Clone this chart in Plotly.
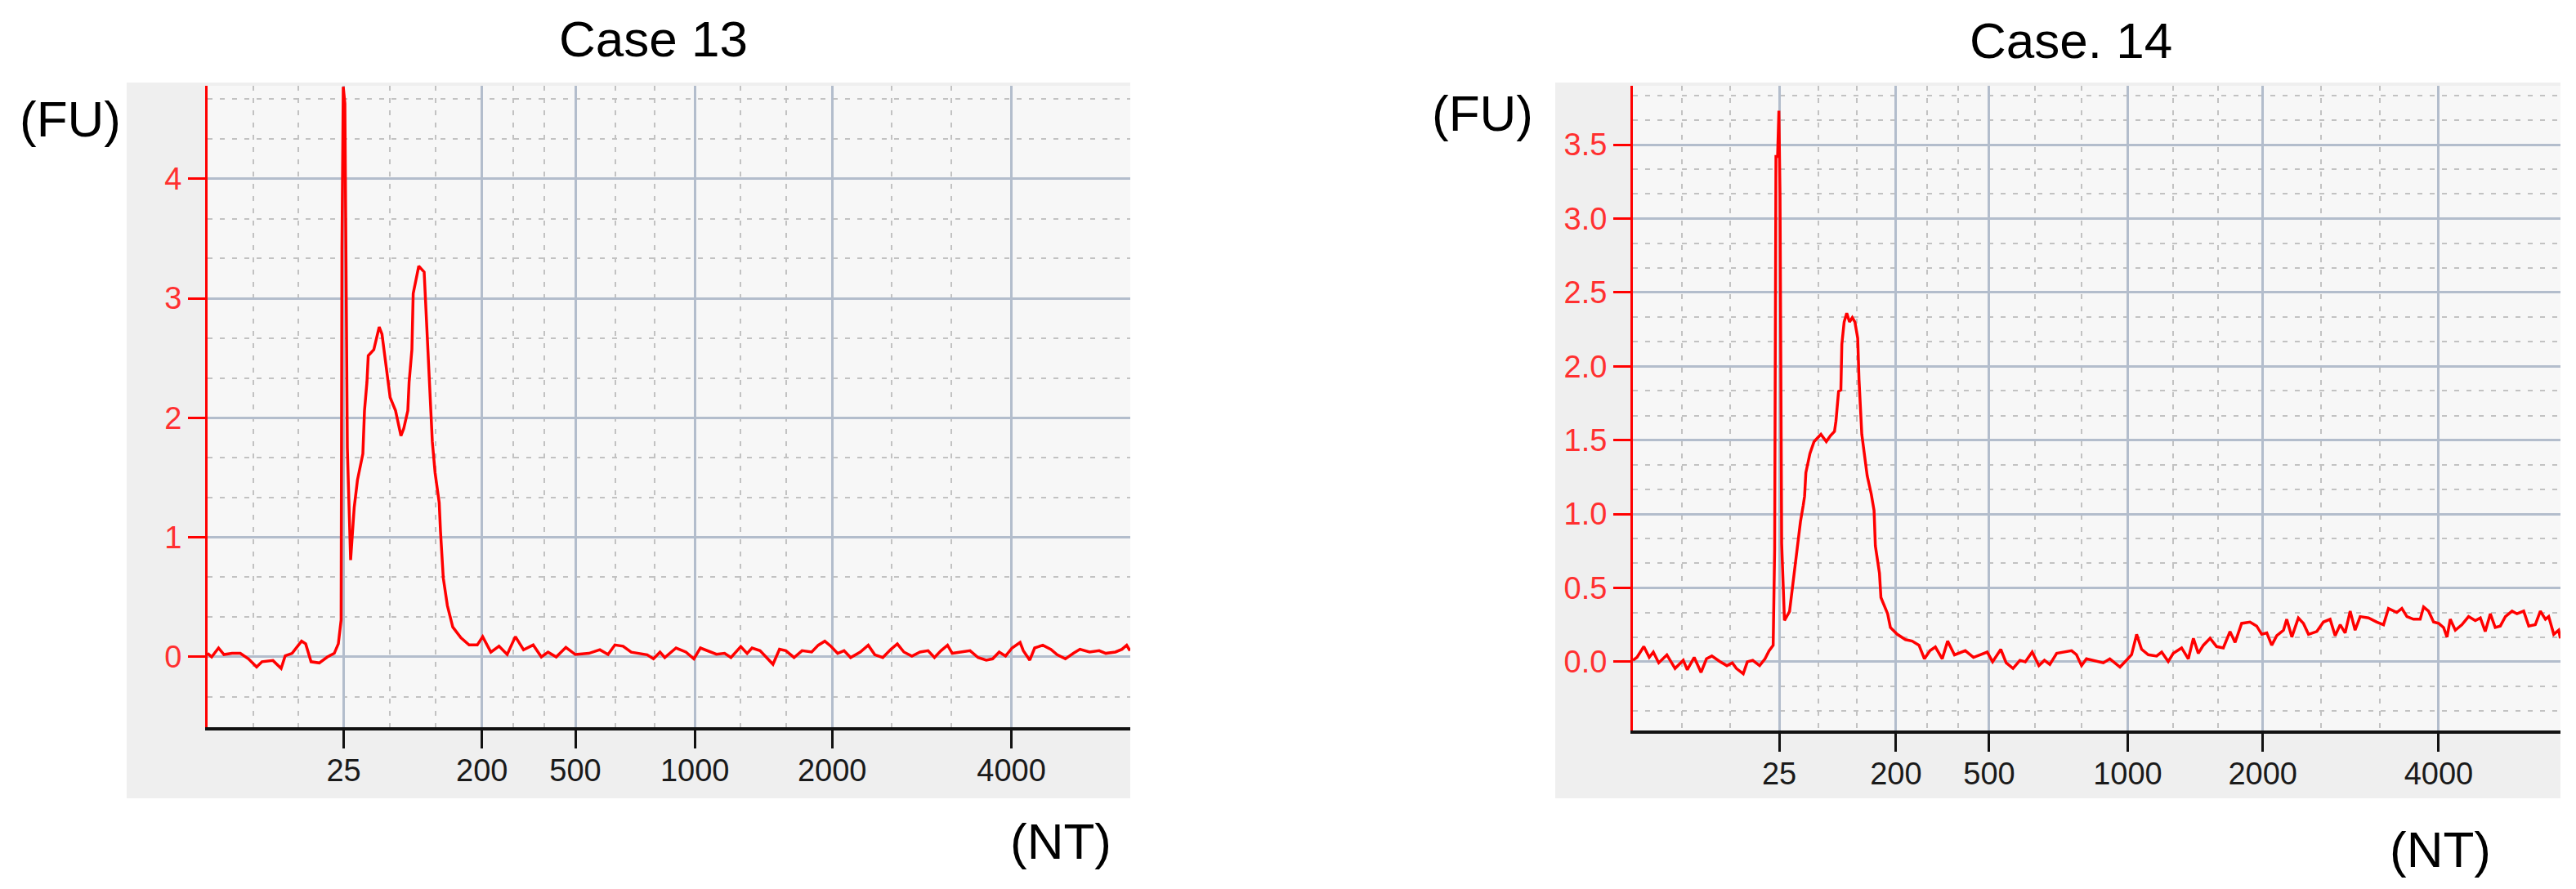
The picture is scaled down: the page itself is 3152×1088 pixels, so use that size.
import plotly.graph_objects as go

W, H = 3152, 1088

# ---------------- data ----------------
ladder_nt = ["25", "200", "500", "1000", "2000", "4000"]
case13_ladder_time = [28.33, 36.79, 42.5, 49.81, 58.21, 69.18]
case14_ladder_time = [28.95, 36.09, 41.79, 50.26, 58.52, 69.28]

case13_time = [20.0, 20.25, 20.67, 21.0, 21.5, 22.0, 22.5, 23.0, 23.33, 24.0, 24.5, 24.75, 25.17,
               25.75, 26.0, 26.33, 26.83, 27.33, 27.75, 28.0, 28.17, 28.22, 28.30, 28.40, 28.55,
               28.75, 28.97, 29.17, 29.5, 29.6, 29.75, 29.83, 30.17, 30.5, 30.67, 30.92, 31.17,
               31.5, 31.83, 32.0, 32.25, 32.33, 32.5, 32.58, 32.83, 32.92, 33.25, 33.33, 33.58,
               33.75, 33.92, 34.17, 34.25, 34.42, 34.67, 35.0, 35.5, 36.0, 36.5, 36.83, 37.33,
               37.83, 38.33, 38.83, 39.33, 39.92, 40.42, 40.83, 41.33, 41.92, 42.5, 43.33, 44.0,
               44.5, 44.92, 45.42, 45.92, 46.29, 46.89, 47.28, 47.68, 47.97, 48.66, 49.26, 49.75,
               50.15, 50.64, 51.13, 51.63, 52.02, 52.62, 53.01, 53.31, 53.80, 54.20, 54.59, 54.99,
               55.38, 55.88, 56.37, 56.96, 57.36, 57.76, 58.15, 58.55, 58.94, 59.34, 59.93, 60.42,
               60.82, 61.31, 61.81, 62.20, 62.60, 63.09, 63.59, 64.08, 64.47, 64.87, 65.27, 65.56,
               66.06, 66.65, 67.14, 67.64, 68.03, 68.43, 68.82, 69.22, 69.71, 69.91, 70.30, 70.60,
               71.10, 71.59, 71.98, 72.48, 72.97, 73.37, 73.96, 74.55, 74.95, 75.54, 75.94, 76.23,
               76.43]
case13_fu = [0.03, 0.0, 0.075, 0.02, 0.03, 0.03, -0.016, -0.084, -0.04, -0.03, -0.096, 0.01, 0.03,
             0.132, 0.11, -0.04, -0.05, 0.0, 0.03, 0.11, 0.31, 3.41, 4.77, 4.63, 1.75,
             0.81, 1.25, 1.48, 1.70, 2.06, 2.3, 2.52, 2.57, 2.76, 2.7, 2.42, 2.17,
             2.06, 1.85, 1.91, 2.06, 2.3, 2.57, 3.04, 3.23, 3.27, 3.22, 3.0, 2.2,
             1.80, 1.54, 1.29, 1.05, 0.66, 0.43, 0.25, 0.16, 0.10, 0.10, 0.17, 0.04,
             0.09, 0.02, 0.17, 0.06, 0.10, 0.0, 0.04, 0.0, 0.08, 0.02, 0.03, 0.06,
             0.02, 0.10, 0.09, 0.04, 0.030, 0.018, -0.016, 0.041, -0.005, 0.075, 0.041, -0.016,
             0.075, 0.052, 0.023, 0.030, -0.005, 0.087, 0.030, 0.075, 0.052, -0.005, -0.062, 0.064,
             0.052, -0.005, 0.052, 0.041, 0.098, 0.132, 0.087, 0.030, 0.052, -0.005, 0.041, 0.098,
             0.018, -0.005, 0.064, 0.109, 0.041, 0.007, 0.041, 0.052, -0.005, 0.052, 0.098, 0.030,
             0.041, 0.052, -0.005, -0.027, -0.016, 0.041, 0.007, 0.075, 0.121, 0.052, -0.027, 0.075,
             0.098, 0.064, 0.018, -0.016, 0.030, 0.064, 0.041, 0.052, 0.030, 0.041, 0.064, 0.098,
             0.052]

case14_time = [20.0, 20.25, 20.67, 21.0, 21.25, 21.58, 22.08, 22.58, 23.08, 23.33, 23.75, 24.17,
               24.5, 24.83, 25.33, 25.75, 26.08, 26.33, 26.75, 27.0, 27.33, 27.75, 28.08, 28.33,
               28.58, 28.67, 28.75, 28.85, 28.93, 29.0, 29.1, 29.27, 29.58, 29.75, 29.92, 30.08,
               30.25, 30.42, 30.5, 30.58, 30.83, 31.08, 31.5, 31.83, 32.08, 32.33, 32.42, 32.58,
               32.72, 32.78, 32.92, 33.08, 33.25, 33.42, 33.58, 33.75, 33.83, 34.0, 34.17, 34.33,
               34.58, 34.75, 34.83, 35.08, 35.17, 35.58, 35.75, 36.17, 36.67, 37.08, 37.5, 37.83,
               38.17, 38.5, 38.92, 39.25, 39.67, 40.33, 40.83, 41.25, 41.67, 42.0, 42.5, 42.83,
               43.25, 43.67, 44.0, 44.42, 44.83, 45.17, 45.5, 45.92, 46.42, 46.83, 47.13, 47.44,
               47.74, 48.36, 48.77, 49.17, 49.48, 49.79, 50.19, 50.5, 50.81, 51.11, 51.52, 52.03,
               52.34, 52.74, 53.05, 53.56, 53.97, 54.28, 54.58, 54.89, 55.3, 55.7, 56.11, 56.52,
               56.83, 57.23, 57.74, 58.15, 58.46, 58.77, 59.07, 59.38, 59.79, 59.99, 60.3, 60.7,
               61.01, 61.32, 61.83, 62.23, 62.64, 62.95, 63.26, 63.56, 63.87, 64.17, 64.48, 64.99,
               65.5, 65.91, 66.21, 66.72, 67.03, 67.34, 67.74, 68.15, 68.36, 68.66, 68.97, 69.28,
               69.58, 69.79, 69.99, 70.3, 70.7, 71.11, 71.52, 71.83, 72.13, 72.44, 72.74, 73.05,
               73.36, 73.77, 74.07, 74.48, 74.79, 75.19, 75.5, 75.81, 76.01, 76.32, 76.62, 76.72]
case14_fu = [0.01, 0.03, 0.103, 0.03, 0.066, -0.007, 0.047, -0.045, 0.01, -0.054, 0.03, -0.072,
             0.02, 0.039, 0.001, -0.026, -0.007, -0.045, -0.081, 0.0, 0.01, -0.026, 0.02, 0.075,
             0.112, 0.76, 3.42, 3.42, 3.73, 3.15, 0.80, 0.28, 0.34, 0.49, 0.66, 0.80,
             0.95, 1.06, 1.12, 1.28, 1.41, 1.49, 1.54, 1.49, 1.53, 1.56, 1.63, 1.83,
             1.84, 2.15, 2.30, 2.36, 2.30, 2.33, 2.30, 2.19, 1.91, 1.54, 1.39, 1.26,
             1.135, 1.025, 0.785, 0.60, 0.435, 0.325, 0.232, 0.186, 0.15, 0.14, 0.112, 0.02,
             0.075, 0.10, 0.02, 0.14, 0.047, 0.075, 0.03, 0.047, 0.066, 0.0, 0.084, -0.007,
             -0.045, 0.01, 0.0, 0.066, -0.026, 0.01, -0.018, 0.057, 0.066, 0.075, 0.048, -0.026,
             0.020, 0.002, -0.007, 0.020, -0.007, -0.035, 0.011, 0.048, 0.186, 0.085, 0.048, 0.039,
             0.066, 0.002, 0.057, 0.094, 0.020, 0.159, 0.057, 0.112, 0.159, 0.103, 0.094, 0.205,
             0.131, 0.260, 0.269, 0.242, 0.186, 0.195, 0.112, 0.177, 0.214, 0.288, 0.168, 0.297,
             0.260, 0.186, 0.205, 0.269, 0.288, 0.177, 0.251, 0.195, 0.343, 0.214, 0.306, 0.297,
             0.269, 0.251, 0.361, 0.334, 0.361, 0.306, 0.288, 0.288, 0.371, 0.343, 0.269, 0.260,
             0.232, 0.168, 0.288, 0.214, 0.251, 0.306, 0.279, 0.297, 0.205, 0.325, 0.232, 0.242,
             0.306, 0.343, 0.325, 0.343, 0.242, 0.251, 0.343, 0.288, 0.306, 0.186, 0.214, 0.159]

case13_fu_ticks = [0, 1, 2, 3, 4]
case13_fu_labels = ["0", "1", "2", "3", "4"]
case14_fu_ticks = [0.0, 0.5, 1.0, 1.5, 2.0, 2.5, 3.0, 3.5]
case14_fu_labels = ["0.0", "0.5", "1.0", "1.5", "2.0", "2.5", "3.0", "3.5"]

titles = ["Case 13", "Case. 14"]

# ---------------- styling ----------------
RED = "#ff0000"
LABEL_RED = "#ff3030"
MAJOR_GRID = "#b3bdcc"
MINOR_GRID = "#c2c2c2"
PANEL_BG = "#efefef"
PLOT_BG = "#f7f7f7"
FONT = "Liberation Sans, Arial, sans-serif"


def px_x(p):
    return p / W


def px_y(p):
    return 1 - p / H


def thirds(start, ladder):
    stops = [start] + list(ladder)
    out = []
    for a, b in zip(stops[:-1], stops[1:]):
        d = (b - a) / 3
        out += [a + d, a + 2 * d]
    return out


fig = go.Figure()
fig.add_trace(go.Scatter(x=case13_time, y=case13_fu, mode="lines",
                         line=dict(color=RED, width=3.5), xaxis="x", yaxis="y",
                         showlegend=False, hoverinfo="skip"))
fig.add_trace(go.Scatter(x=case14_time, y=case14_fu, mode="lines",
                         line=dict(color=RED, width=3.5), xaxis="x2", yaxis="y2",
                         showlegend=False, hoverinfo="skip"))

panels = [
    dict(xd=(246, 1375), yd=(97, 882), xr=(20, 76.45), yr=(-0.588, 4.778),
         ladder=case13_ladder_time, yt=case13_fu_ticks, yl=case13_fu_labels, ydt=1 / 3),
    dict(xd=(1990, 3125), yd=(97, 886), xr=(20, 76.73), yr=(-0.465, 3.899),
         ladder=case14_ladder_time, yt=case14_fu_ticks, yl=case14_fu_labels, ydt=1 / 6),
]

layout = dict(
    width=W, height=H,
    margin=dict(l=0, r=0, t=0, b=0),
    paper_bgcolor="white",
    plot_bgcolor=PLOT_BG,
    showlegend=False,
    hovermode=False,
    font=dict(family=FONT, color="black"),
)

for i, p in enumerate(panels):
    xs = "" if i == 0 else str(i + 1)
    layout["xaxis" + xs] = dict(
        domain=[px_x(p["xd"][0]), px_x(p["xd"][1])],
        range=list(p["xr"]),
        anchor="y" + xs,
        tickmode="array", tickvals=p["ladder"], ticktext=ladder_nt,
        ticks="outside", ticklen=22, tickwidth=3, tickcolor="#111111",
        tickfont=dict(size=38, color="#1a1a1a", family=FONT),
        ticklabelstandoff=-6,
        showline=True, linecolor="#111111", linewidth=4,
        showgrid=True, gridcolor=MAJOR_GRID, gridwidth=3,
        zeroline=False,
        minor=dict(tickmode="array", tickvals=thirds(p["xr"][0], p["ladder"]),
                   showgrid=True, gridcolor=MINOR_GRID, gridwidth=2,
                   griddash="6px,9px", ticks=""),
    )
    layout["yaxis" + xs] = dict(
        domain=[px_y(p["yd"][1]), px_y(p["yd"][0])],
        range=list(p["yr"]),
        anchor="x" + xs,
        tickmode="array", tickvals=p["yt"], ticktext=p["yl"],
        ticks="outside", ticklen=21, tickwidth=3, tickcolor=RED,
        tickfont=dict(size=38, color=LABEL_RED, family=FONT),
        showline=True, linecolor=RED, linewidth=3,
        showgrid=True, gridcolor=MAJOR_GRID, gridwidth=3,
        zeroline=False,
        minor=dict(tick0=0, dtick=p["ydt"], showgrid=True, gridcolor=MINOR_GRID,
                   gridwidth=2, griddash="6px,9px", ticks=""),
    )

shapes = [
    dict(type="rect", xref="paper", yref="paper", layer="below", line=dict(width=0),
         fillcolor=PANEL_BG, x0=px_x(147), x1=px_x(1375), y0=px_y(969), y1=px_y(93)),
    dict(type="rect", xref="paper", yref="paper", layer="below", line=dict(width=0),
         fillcolor=PANEL_BG, x0=px_x(1895), x1=px_x(3125), y0=px_y(969), y1=px_y(93)),
    dict(type="rect", xref="x domain", yref="y domain", layer="below", line=dict(width=0),
         fillcolor=PLOT_BG, x0=0, x1=1, y0=0, y1=1),
    dict(type="rect", xref="x2 domain", yref="y2 domain", layer="below", line=dict(width=0),
         fillcolor=PLOT_BG, x0=0, x1=1, y0=0, y1=1),
]
layout["shapes"] = shapes

big = dict(family=FONT, size=62, color="black")
annotations = [
    dict(text=titles[0], x=px_x(791), y=px_y(40), xref="paper", yref="paper",
         showarrow=False, font=big, xanchor="center", yanchor="middle"),
    dict(text=titles[1], x=px_x(2526), y=px_y(41), xref="paper", yref="paper",
         showarrow=False, font=big, xanchor="center", yanchor="middle"),
    dict(text="(FU)", x=px_x(78), y=px_y(137), xref="paper", yref="paper",
         showarrow=False, font=big, xanchor="center", yanchor="middle"),
    dict(text="(FU)", x=px_x(1806), y=px_y(130), xref="paper", yref="paper",
         showarrow=False, font=big, xanchor="center", yanchor="middle"),
    dict(text="(NT)", x=px_x(1290), y=px_y(1021), xref="paper", yref="paper",
         showarrow=False, font=big, xanchor="center", yanchor="middle"),
    dict(text="(NT)", x=px_x(2978), y=px_y(1031), xref="paper", yref="paper",
         showarrow=False, font=big, xanchor="center", yanchor="middle"),
]
layout["annotations"] = annotations

fig.update_layout(**layout)
fig.write_html("out.html")
